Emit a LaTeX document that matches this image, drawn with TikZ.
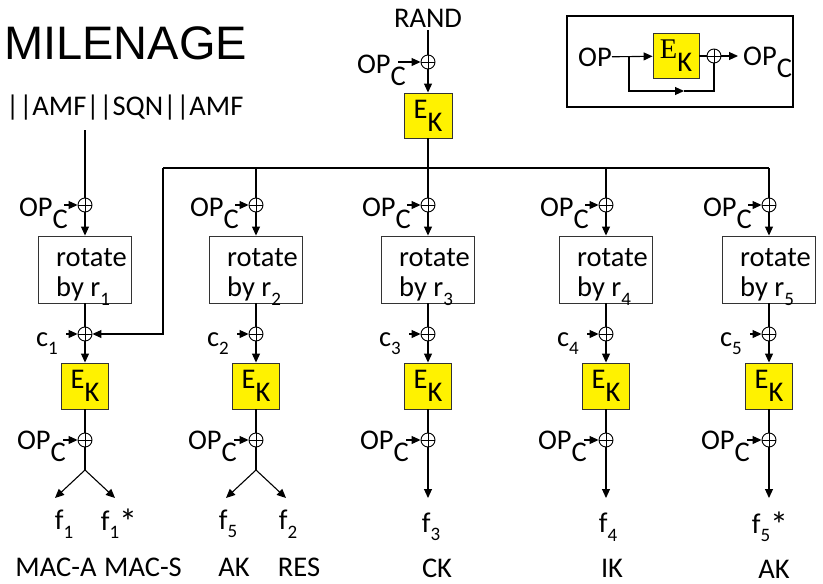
\documentclass[tikz,border=0pt]{standalone}
\usepackage{fontspec}
\setmainfont{Carlito}
\newfontfamily\titlefont{Liberation Sans}
\newfontfamily\serifE{Liberation Serif}
\usetikzlibrary{arrows.meta,positioning}
\newcommand{\lo}[1]{\raisebox{-0.45em}{#1}}
\newcommand{\sbx}[1]{\raisebox{-0.3em}{\fontsize{19}{19}\selectfont #1}}
\newcommand{\str}{{\fontsize{36}{36}\selectfont\raisebox{-0.12em}{*}}}

\begin{document}
\begin{tikzpicture}[x=1pt, y=-1pt,
  every node/.style={font=\fontsize{28.5}{30}\selectfont, inner sep=0pt},
  xor/.style={draw, line width=0.9pt, circle, minimum size=14pt, inner sep=0pt,
    path picture={\draw[line width=0.9pt] (path picture bounding box.north) -- (path picture bounding box.south)
      (path picture bounding box.west) -- (path picture bounding box.east);}},
  ekbox/.style={draw=black!80, line width=0.9pt, fill=yellow, minimum width=47pt, minimum height=46pt},
  rotbox/.style={draw=black!80, line width=0.9pt, minimum width=93pt, minimum height=67pt},
  line/.style={line width=1.1pt},
  edge/.style={line, -{Triangle[length=9pt, width=8pt]}}]
  \useasboundingbox (0,0) rectangle (823,584);
  % title and inputs
  \node[font=\titlefont\fontsize{47}{50}\selectfont, anchor=base west] (title) at (4,59) {MILENAGE};
  \node[anchor=base west] (in1) at (6,115) {||AMF||SQN||AMF};
  \coordinate (in1c) at (85,130);
  \node (rand) at (428,18) {RAND};
  \node[xor] (x0) at (428,62) {};
  \node[anchor=base east] (opc0) at (406,73) {OP\lo{C}};
  \coordinate (a0) at (398,62);
  \node[ekbox, minimum width=48pt, minimum height=45pt] (ek0) at (428,115.5) {E\lo{K}};
  \draw[line, shorten <=3pt] (rand) -- (x0);
  \draw[edge] (a0) -- (x0);
  \draw[edge] (x0) -- (ek0);
  % the five columns
  \foreach \i/\x in {1/85,2/256,3/428,4/606,5/769} {
    \node[xor] (xa\i) at (\x,205) {};
    \node[anchor=base east] (ola\i) at (\x-17,216) {OP\lo{C}};
    \coordinate (oa\i) at (\x-21,205);
    \node[rotbox] (rot\i) at (\x,269.5) {};
    \node[align=left, anchor=west] (rt\i) at (\x-29,277) {rotate\\by r\sbx{\i}};
    \node[xor] (xb\i) at (\x,334) {};
    \node[anchor=base east] (cl\i) at (\x-27,346) {c\sbx{\i}};
    \coordinate (cb\i) at (\x-19,334);
    \node[ekbox] (ek\i) at (\x,386) {E\lo{K}};
    \node[xor] (xc\i) at (\x,440) {};
    \node[anchor=base east] (olc\i) at (\x-19,449) {OP\lo{C}};
    \coordinate (oc\i) at (\x-22,440);
    \draw[edge] (oa\i) -- (xa\i);
    \draw[edge] (xa\i) -- (rot\i);
    \draw[line] (rot\i) -- (xb\i);
    \draw[edge] (cb\i) -- (xb\i);
    \draw[edge] (xb\i) -- (ek\i);
    \draw[line] (ek\i) -- (xc\i);
    \draw[edge] (oc\i) -- (xc\i);
  }
  % feed from the top block
  \coordinate (busl) at (163,168);
  \coordinate (busr) at (769,168);
  \draw[line] (in1c) -- (xa1);
  \draw[line] (ek0) -- (xa3);
  \draw[line] (busl) -- (busr);
  \foreach \i in {2,4,5} \draw[line] (xa\i |- busl) -- (xa\i);
  \draw[edge] (busl) |- (xb1);
  % outputs
  \coordinate (fk1) at (85,470);
  \coordinate (fl1) at (55,498);
  \coordinate (fr1) at (115,498);
  \coordinate (fk2) at (256,470);
  \coordinate (fl2) at (226,498);
  \coordinate (fr2) at (286,498);
  \coordinate (fo3) at (428,498);
  \coordinate (fo4) at (606,498);
  \coordinate (fo5) at (769,498);
  \draw[line] (xc1) -- (fk1);
  \draw[edge] (fk1) -- (fl1);
  \draw[edge] (fk1) -- (fr1);
  \draw[line] (xc2) -- (fk2);
  \draw[edge] (fk2) -- (fl2);
  \draw[edge] (fk2) -- (fr2);
  \draw[edge] (xc3) -- (fo3);
  \draw[edge] (xc4) -- (fo4);
  \draw[edge] (xc5) -- (fo5);
  \node (f1) at (64,524) {f\sbx{1}};
  \node (f1s) at (119,524) {f\sbx{1}\str};
  \node (f5) at (228,524) {f\sbx{5}};
  \node (f2) at (288,524) {f\sbx{2}};
  \node (f3) at (431,527) {f\sbx{3}};
  \node (f4) at (608,527) {f\sbx{4}};
  \node (f5s) at (770,527) {f\sbx{5}\str};
  \node (maca) at (56,567) {MAC-A};
  \node (macs) at (143,567) {MAC-S};
  \node (ak) at (234,567) {AK};
  \node (res) at (299,567) {RES};
  \node (ck) at (437,568) {CK};
  \node (ik) at (612,568) {IK};
  \node (ak5) at (774,569) {AK};
  % inset: how OP_C is made
  \node[draw, line width=1.1pt, minimum width=226pt, minimum height=91pt] (inset) at (680,61.5) {};
  \node (op) at (595,57) {OP};
  \node[ekbox, minimum width=46pt, minimum height=45pt] (ek6) at (676,56) {{\serifE E}\lo{K}};
  \node[xor] (x6) at (714,56) {};
  \node[anchor=base west] (opc6) at (743,65) {OP\lo{C}};
  \coordinate (oc6) at (738,56);
  \coordinate (fb1) at (629,56);
  \coordinate (fbm) at (684,91);
  \draw[edge] (op) -- (ek6);
  \draw[line] (ek6) -- (x6);
  \draw[edge] (x6) -- (oc6);
  \draw[edge] (fb1) |- (fbm);
  \draw[line] (fbm) -| (x6);
\end{tikzpicture}
\end{document}
